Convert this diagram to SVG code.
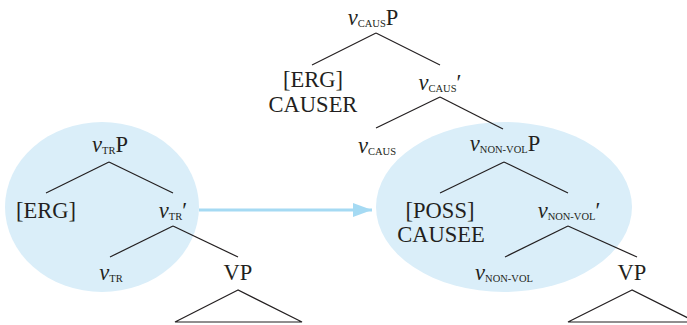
<svg xmlns="http://www.w3.org/2000/svg" width="687" height="325" viewBox="0 0 687 325">
<style>
text{font-family:"Liberation Serif","Times New Roman",serif;font-size:22.5px;fill:#231f20;text-anchor:middle}
.i{font-style:italic}
.s{font-size:10.5px}
.e{fill:#daeef9}
.l{stroke:#231f20;stroke-width:1.2;fill:none}
.tri{stroke:#231f20;stroke-width:1.2;fill:none;stroke-linejoin:miter}
</style>
<defs>
<marker id="ah" markerWidth="20" markerHeight="16" refX="19" refY="7" orient="auto" markerUnits="userSpaceOnUse">
<path d="M0,0 L19,7 L0,14 Z" fill="#a5daf3"/>
</marker>
</defs>
<g id="highlights">
<ellipse class="e" cx="102" cy="207" rx="97" ry="85"/>
<ellipse class="e" cx="504" cy="207" rx="128" ry="85"/>
</g>
<g id="connectors">
<line class="l" x1="376" y1="33" x2="312" y2="65"/>
<line class="l" x1="376" y1="33" x2="440" y2="65"/>
<line class="l" x1="440" y1="97" x2="376" y2="128"/>
<line class="l" x1="440" y1="97" x2="503" y2="129"/>
<line class="l" x1="504" y1="162" x2="440" y2="193"/>
<line class="l" x1="504" y1="162" x2="568" y2="193"/>
<line class="l" x1="568" y1="226" x2="505" y2="257"/>
<line class="l" x1="568" y1="226" x2="637" y2="257"/>
<line class="l" x1="109" y1="162" x2="46" y2="193"/>
<line class="l" x1="109" y1="162" x2="173" y2="193"/>
<line class="l" x1="173" y1="226" x2="110" y2="257"/>
<line class="l" x1="173" y1="226" x2="238" y2="257"/>
<line x1="199" y1="210" x2="372" y2="210" stroke="#a5daf3" stroke-width="3" marker-end="url(#ah)"/>
</g>
<g font-family="Liberation Serif, serif">
<g id="vcausP"><text x="373" y="25"><tspan class="i">v</tspan><tspan class="s" dy="1.5">CAUS</tspan><tspan dy="-1.5">P</tspan></text></g>
<g id="causer"><text x="313" y="87">[ERG]</text><text x="313" y="112">CAUSER</text></g>
<g id="vcausBar"><text x="440" y="90"><tspan class="i">v</tspan><tspan class="s" dy="1.5">CAUS</tspan><tspan dy="-1.5">′</tspan></text></g>
<g id="vcaus"><text x="377" y="153"><tspan class="i">v</tspan><tspan class="s" dy="1.5">CAUS</tspan></text></g>
<g id="vnonvolP"><text x="505" y="151"><tspan class="i">v</tspan><tspan class="s" dy="1.5">NON-VOL</tspan><tspan dy="-1.5">P</tspan></text></g>
<g id="causee"><text x="440" y="218">[POSS]</text><text x="441" y="242">CAUSEE</text></g>
<g id="vnonvolBar"><text x="569" y="218"><tspan class="i">v</tspan><tspan class="s" dy="1.5">NON-VOL</tspan><tspan dy="-1.5">′</tspan></text></g>
<g id="vnonvol"><text x="504" y="280"><tspan class="i">v</tspan><tspan class="s" dy="1.5">NON-VOL</tspan></text></g>
<g id="vpRight"><text x="632" y="280">VP</text><polygon class="tri" points="632,290 568,322 696,322"/></g>
<g id="vtrP"><text x="110" y="152"><tspan class="i">v</tspan><tspan class="s" dy="1.5">TR</tspan><tspan dy="-1.5">P</tspan></text></g>
<g id="erg"><text x="46" y="218">[ERG]</text></g>
<g id="vtrBar"><text x="173" y="218"><tspan class="i">v</tspan><tspan class="s" dy="1.5">TR</tspan><tspan dy="-1.5">′</tspan></text></g>
<g id="vtr"><text x="111" y="280"><tspan class="i">v</tspan><tspan class="s" dy="1.5">TR</tspan></text></g>
<g id="vpLeft"><text x="238" y="280">VP</text><polygon class="tri" points="238,290 175,322 302,322"/></g>
</g>
</svg>
